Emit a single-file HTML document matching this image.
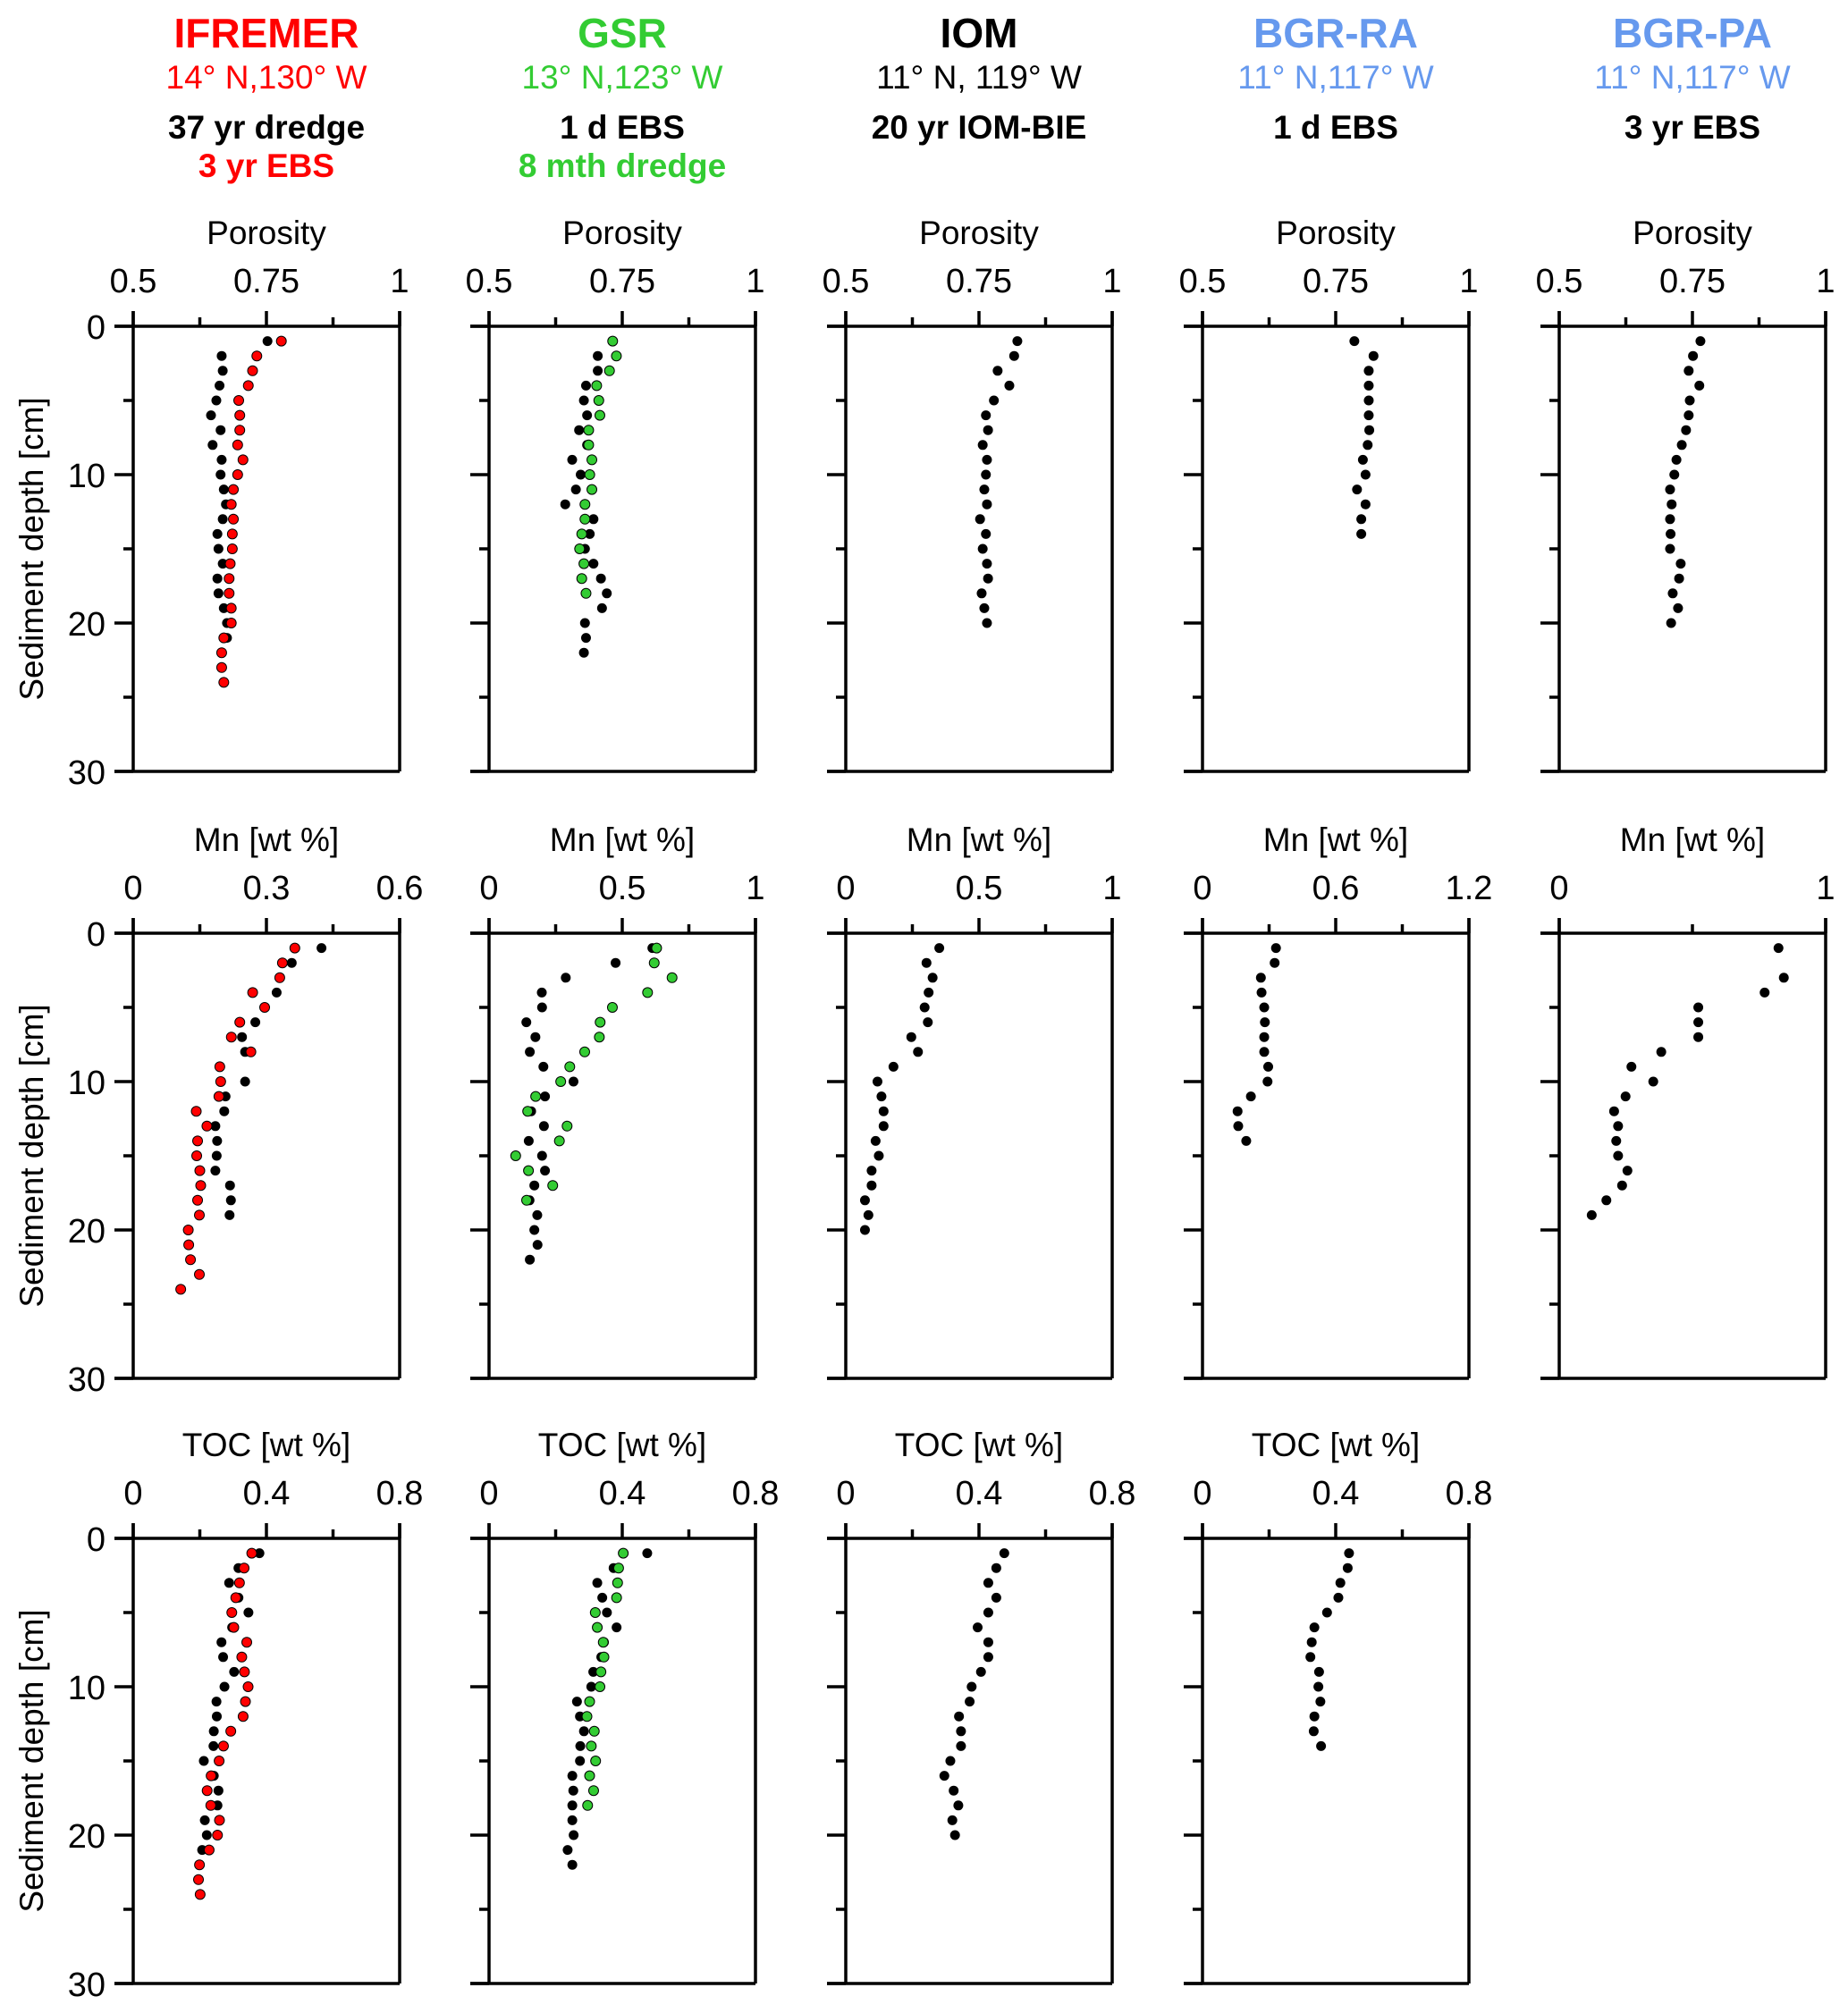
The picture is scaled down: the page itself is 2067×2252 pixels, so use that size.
<!DOCTYPE html>
<html><head><meta charset="utf-8"><style>
html,body{margin:0;padding:0;background:#fff;}
svg{display:block;}
text{font-family:"Liberation Sans",Arial,sans-serif;}
</style></head><body>
<svg id="fig" width="2067" height="2252" viewBox="0 0 2067 2252" xmlns="http://www.w3.org/2000/svg"></svg>
<script>
// ---- data (depth in cm) ----
const depthsA = [1,2,3,4,5,6,7,8,9,10,11,12,13,14,15,16,17,18,19,20,21,22,23,24];
// Porosity
const porIfrBlack = [0.752,0.666,0.668,0.662,0.656,0.646,0.664,0.649,0.666,0.664,0.670,0.674,0.668,0.658,0.660,0.668,0.658,0.660,0.670,0.676,0.676];
const porIfrRed = [0.778,0.732,0.724,0.716,0.698,0.700,0.700,0.696,0.706,0.696,0.688,0.684,0.688,0.686,0.686,0.682,0.680,0.680,0.684,0.684,0.670,0.666,0.666,0.670];
const porGsrBlack = [null,0.704,0.704,0.682,0.678,0.684,0.669,0.684,0.656,0.672,0.663,0.643,0.696,0.689,0.680,0.696,0.710,0.721,0.712,0.680,0.682,0.678];
const porGsrGreen = [0.732,0.739,0.726,0.702,0.706,0.708,0.687,0.687,0.693,0.689,0.693,0.680,0.680,0.674,0.670,0.678,0.674,0.682];
const porIom = [0.822,0.816,0.785,0.807,0.778,0.763,0.767,0.757,0.765,0.763,0.760,0.765,0.752,0.763,0.757,0.765,0.767,0.755,0.760,0.765];
const porBgrRa = [0.785,0.821,0.812,0.812,0.812,0.812,0.813,0.810,0.801,0.806,0.790,0.806,0.798,0.798];
const porBgrPa = [0.765,0.751,0.743,0.763,0.745,0.743,0.738,0.730,0.720,0.716,0.708,0.711,0.708,0.709,0.708,0.728,0.725,0.713,0.723,0.710];
// Mn
const mnIfrBlack = [0.424,0.357,null,0.323,0.296,0.275,0.245,0.252,null,0.252,0.208,0.205,0.185,0.189,0.188,0.185,0.218,0.220,0.217];
const mnIfrRed = [0.364,0.336,0.330,0.269,0.296,0.240,0.221,0.265,0.195,0.197,0.193,0.142,0.166,0.145,0.143,0.150,0.152,0.145,0.149,0.124,0.125,0.129,0.149,0.107];
const mnGsrBlack = [0.613,0.475,0.288,0.198,0.199,0.140,0.174,0.153,0.204,0.317,0.210,0.158,0.206,0.149,0.199,0.210,0.170,0.152,0.181,0.170,0.182,0.153];
const mnGsrGreen = [0.629,0.620,0.687,0.595,0.463,0.417,0.414,0.359,0.303,0.269,0.175,0.145,0.293,0.264,0.100,0.148,0.239,0.141];
const mnIom = [0.351,0.303,0.326,0.311,0.296,0.308,0.246,0.271,0.179,0.119,0.134,0.142,0.142,0.112,0.124,0.097,0.097,0.072,0.085,0.072];
const mnBgrRa = [0.331,0.325,0.263,0.266,0.278,0.281,0.278,0.278,0.296,0.293,0.218,0.158,0.161,0.197];
const mnBgrPa = [0.823,null,0.843,0.771,0.522,0.522,0.522,0.383,0.271,0.353,0.249,0.206,0.221,0.214,0.221,0.256,0.236,0.177,0.122];
// TOC
const tocIfrBlack = [0.379,0.316,0.288,0.316,0.346,0.297,0.265,0.270,0.303,0.274,0.250,0.251,0.242,0.241,0.212,0.242,0.256,0.253,0.215,0.221,0.207];
const tocIfrRed = [0.356,0.333,0.319,0.308,0.296,0.302,0.341,0.326,0.334,0.345,0.337,0.330,0.293,0.271,0.258,0.234,0.222,0.233,0.259,0.253,0.228,0.199,0.196,0.201];
const tocGsrBlack = [0.475,0.374,0.325,0.340,0.354,0.383,0.345,0.337,0.313,0.307,0.264,0.273,0.285,0.274,0.273,0.250,0.253,0.250,0.250,0.254,0.236,0.250];
const tocGsrGreen = [0.403,0.389,0.386,0.383,0.319,0.325,0.343,0.345,0.336,0.333,0.302,0.294,0.316,0.307,0.320,0.302,0.314,0.296];
const tocIom = [0.476,0.452,0.428,0.452,0.428,0.396,0.428,0.428,0.406,0.378,0.372,0.340,0.346,0.346,0.314,0.296,0.324,0.338,0.320,0.328];
const tocBgrRa = [0.440,0.436,0.414,0.408,0.374,0.336,0.328,0.324,0.350,0.348,0.354,0.336,0.334,0.356];
// axis tick labels
const depthTicks = [0,10,20,30];
const depthMinor = [5,15,25];
const porTickLabels = ["0.5","0.75","1"];
const mnTickLabelsA = ["0","0.3","0.6"];
const mnTickLabelsB = ["0","0.5","1"];
const mnTickLabelsC = ["0","0.6","1.2"];
const mnTickLabelsD = ["0","1"];
const tocTickLabels = ["0","0.4","0.8"];

const RED="#ff0000", GREEN="#33cc33", BLUE="#6699ee";
const svg=document.getElementById('fig');
const NS="http://www.w3.org/2000/svg";
function mk(tag,attrs,parent){const e=document.createElementNS(NS,tag);for(const k in attrs)e.setAttribute(k,attrs[k]);(parent||svg).appendChild(e);return e;}

const colX=[149,547,946,1345,1744];
const rowY=[365,1044,1721];
const W=298,H=498,LW=3.5;

// headers
const headers=[
 {t:"IFREMER",c:RED,coord:"14° N,130° W",l:[["37 yr dredge","#000"],["3 yr EBS",RED]]},
 {t:"GSR",c:GREEN,coord:"13° N,123° W",l:[["1 d EBS","#000"],["8 mth dredge",GREEN]]},
 {t:"IOM",c:"#000",coord:"11° N, 119° W",l:[["20 yr IOM-BIE","#000"]]},
 {t:"BGR-RA",c:BLUE,coord:"11° N,117° W",l:[["1 d EBS","#000"]]},
 {t:"BGR-PA",c:BLUE,coord:"11° N,117° W",l:[["3 yr EBS","#000"]]}
];
headers.forEach((h,i)=>{
  const cx=colX[i]+W/2;
  const g=mk('g',{});
  
  
  let t=mk('text',{x:cx,y:53,'text-anchor':'middle','font-size':46,'font-weight':'bold',fill:h.c},g);t.textContent=h.t;
  
  t=mk('text',{x:cx,y:99,'text-anchor':'middle','font-size':37,fill:h.c},g);t.textContent=h.coord;
  
  h.l.forEach((l,j)=>{const tt=mk('text',{x:cx,y:155+j*43,'text-anchor':'middle','font-size':37,'font-weight':'bold',fill:l[1]},g);tt.textContent=l[0];
    });
});

function panel(col,row,label,xmin,xmax,tickLabels,minorCount,series){
  const x0=colX[col],y0=rowY[row];
  const g=mk('g',{});
  
  
  const sx=v=>x0+(v-xmin)/(xmax-xmin)*W;
  const sy=d=>y0+d/30*H;
  mk('line',{x1:x0,y1:y0-17,x2:x0,y2:y0+H,stroke:'#000','stroke-width':LW},g);
  mk('line',{x1:x0+W,y1:y0-17,x2:x0+W,y2:y0+H,stroke:'#000','stroke-width':LW},g);
  mk('line',{x1:x0-21,y1:y0,x2:x0+W,y2:y0,stroke:'#000','stroke-width':LW},g);
  mk('line',{x1:x0-21,y1:y0+H,x2:x0+W,y2:y0+H,stroke:'#000','stroke-width':LW},g);
  const nMaj=tickLabels.length;
  for(let i=0;i<nMaj;i++){
    const v=xmin+(xmax-xmin)*i/(nMaj-1);
    mk('line',{x1:sx(v),y1:y0-17,x2:sx(v),y2:y0,stroke:'#000','stroke-width':LW},g);
    const t=mk('text',{x:sx(v),y:y0-38,'text-anchor':'middle','font-size':38},g);t.textContent=tickLabels[i];
    
  }
  for(let i=0;i<minorCount;i++){
    const v=xmin+(xmax-xmin)*(i+0.5)/minorCount;
    mk('line',{x1:sx(v),y1:y0-10,x2:sx(v),y2:y0,stroke:'#000','stroke-width':LW},g);
  }
  const xl=mk('text',{x:x0+W/2,y:y0-92,'text-anchor':'middle','font-size':37},g);xl.textContent=label;
  
  depthTicks.forEach(d=>{
    mk('line',{x1:x0-21,y1:sy(d),x2:x0,y2:sy(d),stroke:'#000','stroke-width':LW},g);
    if(col===0){const t=mk('text',{x:x0-31,y:sy(d)+14,'text-anchor':'end','font-size':38},g);t.textContent=d;
      }
  });
  depthMinor.forEach(d=>mk('line',{x1:x0-11,y1:sy(d),x2:x0,y2:sy(d),stroke:'#000','stroke-width':LW},g));
  if(col===0){
    const t=mk('text',{x:0,y:0,'text-anchor':'middle','font-size':37,transform:`translate(48,${y0+H/2}) rotate(-90)`},g);
    t.textContent="Sediment depth [cm]";
    
  }
  series.forEach(s=>{
    s.vals.forEach((v,i)=>{
      if(v===null)return;
      const c=mk('circle',{cx:sx(v),cy:sy(depthsA[i]),r:5.5,fill:s.c,stroke:'#000','stroke-width':s.c==='#000'?0:1},g);
      
      
    });
  });
}
const K="#000";
panel(0,0,"Porosity",0.5,1,porTickLabels,2,[{vals:porIfrBlack,c:K},{vals:porIfrRed,c:RED}]);
panel(1,0,"Porosity",0.5,1,porTickLabels,2,[{vals:porGsrBlack,c:K},{vals:porGsrGreen,c:GREEN}]);
panel(2,0,"Porosity",0.5,1,porTickLabels,2,[{vals:porIom,c:K}]);
panel(3,0,"Porosity",0.5,1,porTickLabels,2,[{vals:porBgrRa,c:K}]);
panel(4,0,"Porosity",0.5,1,porTickLabels,2,[{vals:porBgrPa,c:K}]);
panel(0,1,"Mn [wt %]",0,0.6,mnTickLabelsA,2,[{vals:mnIfrBlack,c:K},{vals:mnIfrRed,c:RED}]);
panel(1,1,"Mn [wt %]",0,1,mnTickLabelsB,2,[{vals:mnGsrBlack,c:K},{vals:mnGsrGreen,c:GREEN}]);
panel(2,1,"Mn [wt %]",0,1,mnTickLabelsB,2,[{vals:mnIom,c:K}]);
panel(3,1,"Mn [wt %]",0,1.2,mnTickLabelsC,2,[{vals:mnBgrRa,c:K}]);
panel(4,1,"Mn [wt %]",0,1,mnTickLabelsD,1,[{vals:mnBgrPa,c:K}]);
panel(0,2,"TOC [wt %]",0,0.8,tocTickLabels,2,[{vals:tocIfrBlack,c:K},{vals:tocIfrRed,c:RED}]);
panel(1,2,"TOC [wt %]",0,0.8,tocTickLabels,2,[{vals:tocGsrBlack,c:K},{vals:tocGsrGreen,c:GREEN}]);
panel(2,2,"TOC [wt %]",0,0.8,tocTickLabels,2,[{vals:tocIom,c:K}]);
panel(3,2,"TOC [wt %]",0,0.8,tocTickLabels,2,[{vals:tocBgrRa,c:K}]);
</script>
</body></html>
